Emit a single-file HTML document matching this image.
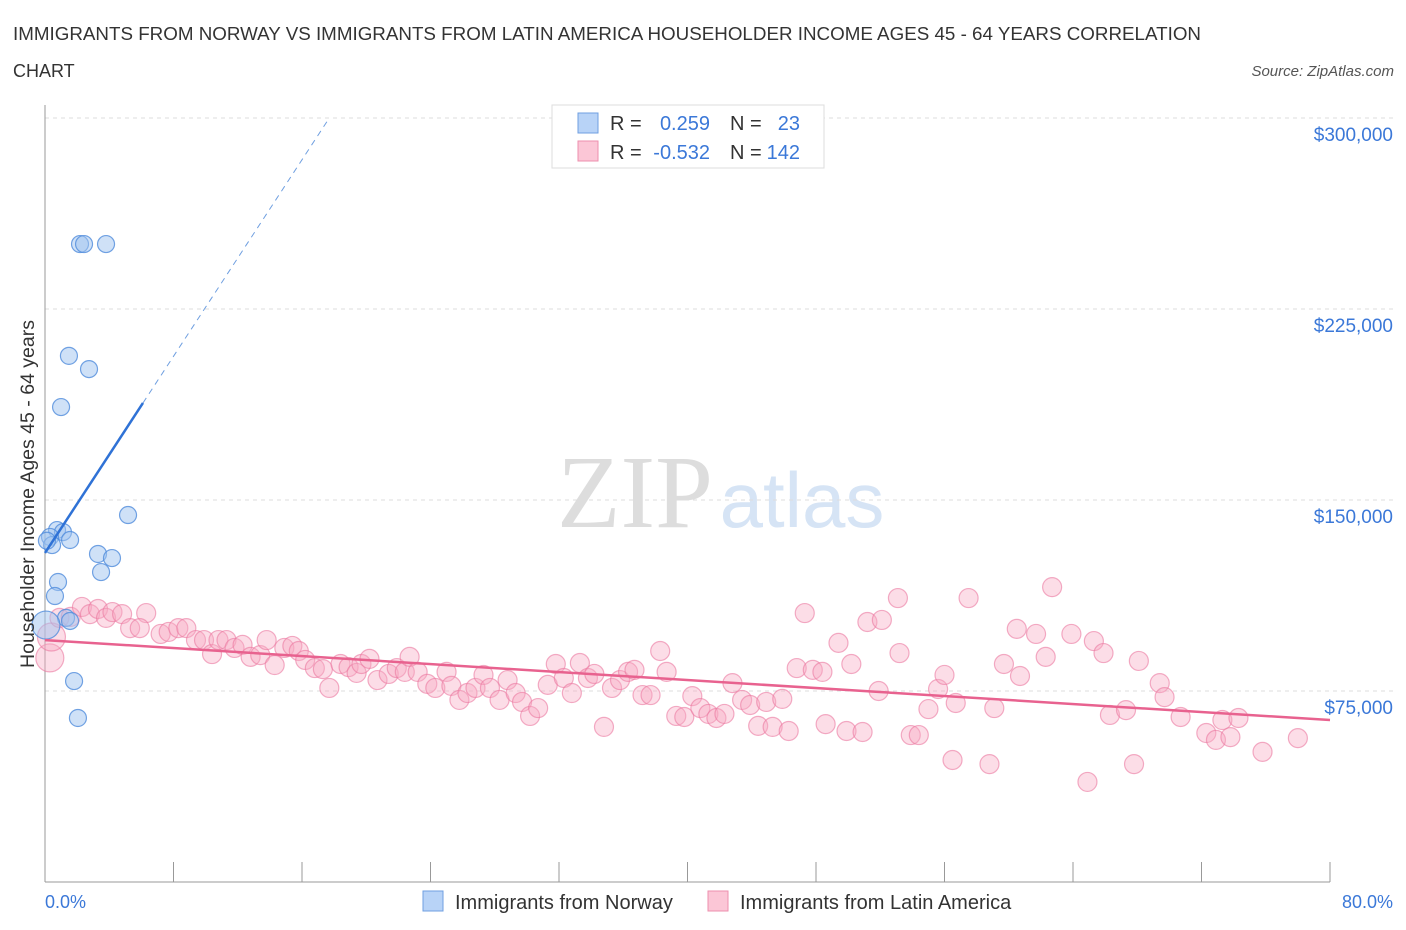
<!DOCTYPE html>
<html><head><meta charset="utf-8"><style>
body{margin:0;background:#fff;font-family:"Liberation Sans",sans-serif;}
svg{display:block}
</style></head><body>
<svg id="chart" width="1406" height="930" xmlns="http://www.w3.org/2000/svg">
<text x="13" y="40" font-size="18" fill="#333" textLength="1188" lengthAdjust="spacingAndGlyphs">IMMIGRANTS FROM NORWAY VS IMMIGRANTS FROM LATIN AMERICA HOUSEHOLDER INCOME AGES 45 - 64 YEARS CORRELATION</text>
<text x="13" y="77" font-size="18" fill="#333">CHART</text>
<text x="1394" y="76" font-size="15" fill="#555" text-anchor="end" font-style="italic">Source: ZipAtlas.com</text>
<text x="635" y="527" font-size="104" fill="#ddd" text-anchor="middle" font-family="Liberation Serif,serif">ZIP</text>
<text x="802" y="527" font-size="78" fill="#d6e4f5" text-anchor="middle">atlas</text>
<g id="grid"></g>
<g id="axes"></g>
<g id="pts"></g>
<g id="lines"></g>
<text transform="translate(34,494) rotate(-90)" font-size="19.5" fill="#333" text-anchor="middle">Householder Income Ages 45 - 64 years</text>
<text x="45" y="908" font-size="18" fill="#3b78d8">0.0%</text>
<text x="1393" y="908" font-size="18" fill="#3b78d8" text-anchor="end">80.0%</text>
<g>
<rect x="552" y="105" width="272" height="63" fill="#fff" stroke="#ddd"/>
<rect x="578" y="113" width="20" height="20" fill="#b8d3f7" stroke="#6f9fe0"/>
<rect x="578" y="141" width="20" height="20" fill="#fbc6d6" stroke="#ee8fae"/>
<text x="610" y="130" font-size="20" fill="#333">R =</text>
<text x="710" y="130" font-size="20" fill="#3b78d8" text-anchor="end">0.259</text>
<text x="730" y="130" font-size="20" fill="#333">N =</text>
<text x="800" y="130" font-size="20" fill="#3b78d8" text-anchor="end">23</text>
<text x="610" y="159" font-size="20" fill="#333">R =</text>
<text x="710" y="159" font-size="20" fill="#3b78d8" text-anchor="end">-0.532</text>
<text x="730" y="159" font-size="20" fill="#333">N =</text>
<text x="800" y="159" font-size="20" fill="#3b78d8" text-anchor="end">142</text>
</g>
<g>
<rect x="423" y="891" width="20" height="20" fill="#b8d3f7" stroke="#6f9fe0"/>
<text x="455" y="909" font-size="20" fill="#333">Immigrants from Norway</text>
<rect x="708" y="891" width="20" height="20" fill="#fbc6d6" stroke="#ee8fae"/>
<text x="740" y="909" font-size="20" fill="#333">Immigrants from Latin America</text>
</g>
</svg>
<script>
const yTicks=[75000,150000,225000,300000];
const yTickLabels=["$75,000","$150,000","$225,000","$300,000"];
const xTicks=[0,8,16,24,32,40,48,56,64,72,80];
const norwayX=[2.18,2.43,3.80,1.49,2.74,1.00,5.17,0.75,1.12,0.31,1.56,0.44,3.30,4.17,3.49,0.81,0.62,1.31,1.56,0.06,1.81,2.05,0.12];
const norwayY=[250.5,250.5,250.5,206.6,201.4,186.5,144.1,138.2,137.4,135.5,134.3,132.3,128.8,127.2,121.7,117.8,112.3,103.7,102.5,100.9,78.9,64.4,134];
const latamX=[0.3,0.4,0.9,1.6,2.3,2.8,3.3,3.8,4.2,4.8,6.3,5.3,5.9,7.2,7.7,8.3,8.8,9.4,9.9,10.4,10.8,11.3,11.8,12.3,12.8,13.4,13.8,14.3,14.9,15.4,15.8,16.2,16.8,17.3,17.7,18.4,18.9,19.4,19.7,20.2,20.7,21.4,21.9,22.4,22.7,23.2,23.8,24.3,25.0,25.3,25.8,26.3,26.8,27.3,27.7,28.3,28.8,29.3,29.7,30.2,30.7,31.3,31.8,32.3,32.8,33.3,33.8,34.2,34.8,35.3,35.8,36.3,36.7,37.2,37.7,38.3,38.7,39.3,39.8,40.3,40.8,41.3,41.8,42.3,42.8,43.4,43.9,44.4,44.9,45.3,45.9,46.3,46.8,47.3,47.8,48.4,48.6,49.4,49.9,50.2,50.9,51.2,51.9,52.1,53.1,53.2,53.9,54.4,55.0,55.6,56.0,56.5,56.7,57.5,58.8,59.1,59.7,60.5,60.7,61.7,62.3,62.7,63.9,64.9,65.3,65.9,66.3,67.3,67.8,68.1,69.4,69.7,70.7,72.3,72.9,73.3,73.8,74.3,75.8,78.0];
const latamY=[88.0,96.2,103.7,104.1,108.0,105.2,107.2,103.7,106.0,105.2,105.6,99.7,99.7,97.4,98.2,99.7,99.7,95.0,95.0,89.5,95.0,95.0,91.9,93.1,88.4,89.1,95.0,85.2,91.9,92.7,90.7,87.2,84.0,83.6,76.2,85.6,84.4,82.1,85.6,87.6,79.3,81.7,84.0,82.5,88.4,82.5,77.8,76.2,82.5,77.0,71.5,74.2,76.2,81.3,76.2,71.5,79.3,74.2,70.7,65.2,68.3,77.4,85.6,80.1,74.2,86.0,80.1,81.7,60.9,76.2,79.3,82.5,83.3,73.4,73.4,90.7,82.5,65.2,64.8,73.0,68.3,66.0,64.4,66.0,78.1,71.5,69.5,61.3,70.7,60.9,71.9,59.3,84.0,105.6,83.3,82.5,62.0,93.9,59.3,85.6,58.9,102.1,75.0,102.9,111.5,89.9,57.7,57.7,67.9,75.8,81.3,47.9,70.3,111.5,46.3,68.3,85.6,99.4,80.9,97.4,88.4,115.8,97.4,39.3,94.6,89.9,65.6,67.5,46.3,86.8,78.1,72.6,64.8,58.5,55.8,63.6,56.9,64.4,51.1,56.5];
const norwayTrend=[[0,129.2],[6.1,188.1],[17.7,300]];
const latamTrend=[[0,95.0],[80,63.6]];
const NS="http://www.w3.org/2000/svg";
const X=v=>45+v*(1285/80);
const Y=v=>882-v*(764/300000);
function mk(tag,attrs,parent){const e=document.createElementNS(NS,tag);for(const k in attrs)e.setAttribute(k,attrs[k]);parent.appendChild(e);return e;}
const grid=document.getElementById('grid'),axes=document.getElementById('axes'),pts=document.getElementById('pts'),lines=document.getElementById('lines');
yTicks.forEach((t,i)=>{
 const l=mk('line',{x1:45,x2:1395,y1:Y(t),y2:Y(t),stroke:'#ddd','stroke-dasharray':'4,4'},grid);
 
 
 const tx=mk('text',{x:1393,y:Y(t)+23,'font-size':19,fill:'#3b78d8','text-anchor':'end'},grid);
 tx.textContent=yTickLabels[i];
 
 
});
const ax=mk('line',{x1:45,x2:45,y1:105,y2:882,stroke:'#999'},axes);


const bx=mk('line',{x1:45,x2:1330,y1:882,y2:882,stroke:'#999'},axes);


xTicks.forEach(t=>{
 const l=mk('line',{x1:X(t),x2:X(t),y1:862,y2:882,stroke:'#999'},axes);
 
 
});
latamX.forEach((x,i)=>{
 const big=i<2;
 const c=mk('circle',{cx:X(x),cy:Y(latamY[i]*1000),r:big?14:9.5,fill:'rgba(248,170,195,0.4)',stroke:'rgba(235,120,160,0.6)','stroke-width':1.2},pts);
 
 
});
norwayX.forEach((x,i)=>{
 const big=i===19;
 const c=mk('circle',{cx:X(x),cy:Y(norwayY[i]*1000),r:big?14:8.5,fill:'rgba(160,196,240,0.5)',stroke:'rgba(80,140,220,0.8)','stroke-width':1.2},pts);
 
 
});
const n1=mk('line',{x1:X(norwayTrend[0][0]),y1:Y(norwayTrend[0][1]*1000),x2:X(norwayTrend[1][0]),y2:Y(norwayTrend[1][1]*1000),stroke:'#2f72d6','stroke-width':2.5},lines);


const n2=mk('line',{x1:X(norwayTrend[1][0]),y1:Y(norwayTrend[1][1]*1000),x2:X(norwayTrend[2][0]),y2:Y(norwayTrend[2][1]*1000),stroke:'#6f9fe0','stroke-width':1,'stroke-dasharray':'6,5'},lines);


const p1=mk('line',{x1:X(latamTrend[0][0]),y1:Y(latamTrend[0][1]*1000),x2:X(latamTrend[1][0]),y2:Y(latamTrend[1][1]*1000),stroke:'#e8628f','stroke-width':2.5},lines);


</script>
</body></html>
